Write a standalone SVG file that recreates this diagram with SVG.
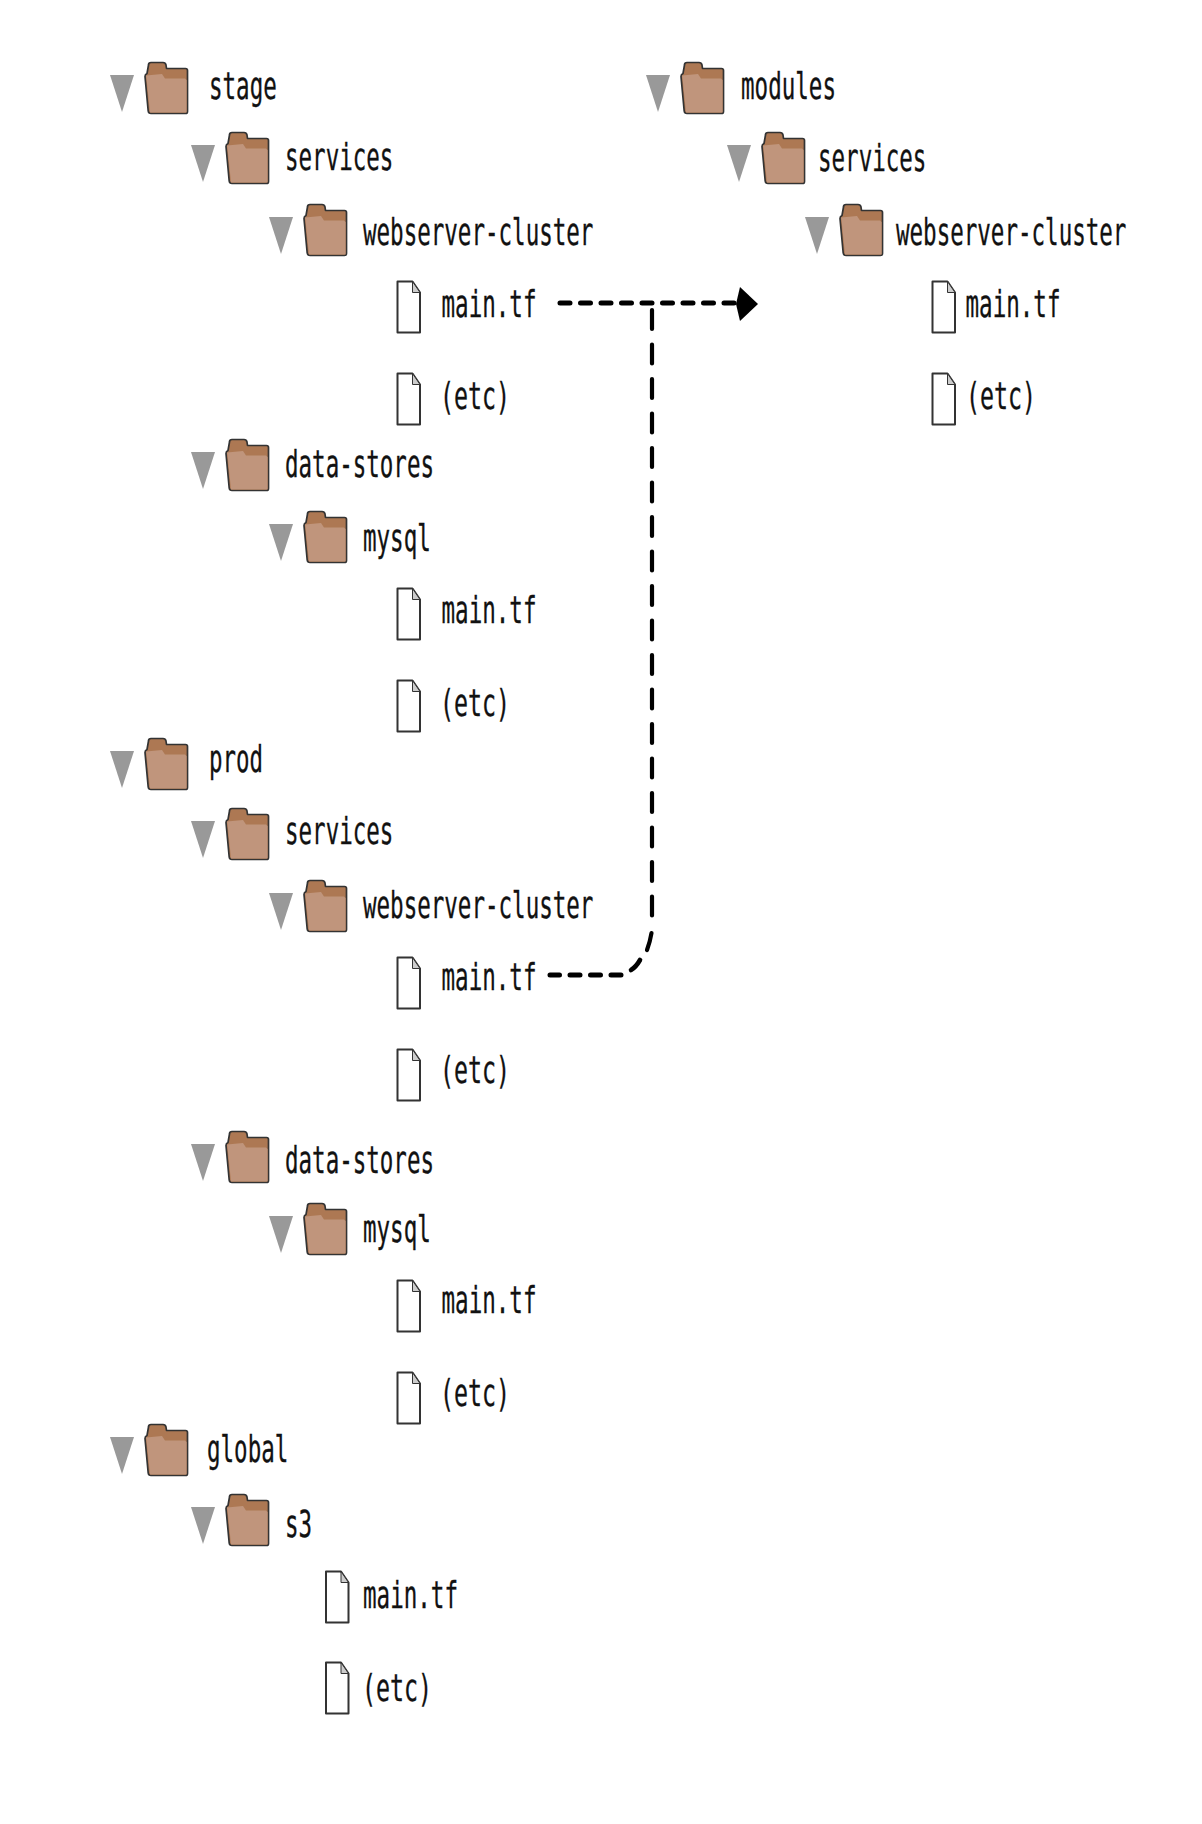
<svg xmlns="http://www.w3.org/2000/svg" width="1202" height="1824" viewBox="0 0 1202 1824">
<style>
text{font-family:"DejaVu Sans Mono","Liberation Mono",monospace;font-size:38px;fill:#111;stroke:#111;stroke-width:.35}
.tri{fill:#999}
.fb{fill:#ad7853;stroke:#333;stroke-width:1.7;stroke-linejoin:round}
.ff{fill:#c0957c}
.file{fill:#fff;stroke:#333;stroke-width:2;stroke-linejoin:round}
.fold{fill:#ccc;stroke:#333;stroke-width:1}
.c{fill:none;stroke:#000;stroke-linecap:round}
.h{stroke-width:5;stroke-dasharray:10 10.5}
.v{stroke-width:4.2;stroke-dasharray:19 15.5}
</style>
<defs>
<g id="folder">
<polygon class="tri" points="-35,13 -11,13 -23,50"/>
<path class="fb" d="M3.5 3Q3.5 0.5 6 0.5L18 0.5Q20.5 0.5 21 3L21.5 6.5L40.5 6.5Q42.5 6.5 42.5 8.5L42.5 49.5Q42.5 51.5 40.5 51.5L6 51.5Q3.5 51.5 3.2 49L0 14.5Q0 12.5 2 11.5Z"/>
<path class="ff" d="M1 13.5L17 12L20 16.5L40 16.5L41.6 18L41.6 50.5L5 50.5L1.5 16Z"/>
</g>
<g id="doc">
<path class="file" d="M0.5 0.5L15.5 0.5L23 11.5L23 51.5L0.5 51.5Z"/>
<path class="fold" d="M15.5 0.5L15.5 11.5L23 11.5Z"/>
</g>
</defs>
<g id="connectors">
<path class="c h" d="M560 303H738"/>
<polygon points="736,304 740,287 758,304 740,321" fill="#000"/>
<path class="c v" d="M652 310V917"/>
<path class="c" stroke-width="4.2" d="M651.5 933Q650 942 647 950"/>
<path class="c" stroke-width="4.6" d="M640 960Q636 967 631 970"/>
<path class="c h" d="M621 975H550"/>
</g>
<g id="n-stage"><use href="#folder" x="145" y="62"/><text x="209" y="99" textLength="67.8" lengthAdjust="spacingAndGlyphs">stage</text></g>
<g id="n-stage-services"><use href="#folder" x="226" y="132"/><text x="285" y="170" textLength="108.4" lengthAdjust="spacingAndGlyphs">services</text></g>
<g id="n-stage-web"><use href="#folder" x="304" y="204"/><text x="363" y="245" textLength="230.4" lengthAdjust="spacingAndGlyphs">webserver-cluster</text></g>
<g id="n-stage-web-main"><use href="#doc" x="397" y="281"/><text x="441.5" y="317" textLength="95" lengthAdjust="spacingAndGlyphs">main.tf</text></g>
<g id="n-stage-web-etc"><use href="#doc" x="397" y="373"/><text x="440" y="409" textLength="70" lengthAdjust="spacingAndGlyphs">(etc)</text></g>
<g id="n-stage-data"><use href="#folder" x="226" y="439"/><text x="285" y="477" textLength="149" lengthAdjust="spacingAndGlyphs">data-stores</text></g>
<g id="n-stage-mysql"><use href="#folder" x="304" y="511"/><text x="363" y="551" textLength="67.8" lengthAdjust="spacingAndGlyphs">mysql</text></g>
<g id="n-stage-mysql-main"><use href="#doc" x="397" y="588"/><text x="441.5" y="623" textLength="95" lengthAdjust="spacingAndGlyphs">main.tf</text></g>
<g id="n-stage-mysql-etc"><use href="#doc" x="397" y="680"/><text x="440" y="716" textLength="70" lengthAdjust="spacingAndGlyphs">(etc)</text></g>
<g id="n-prod"><use href="#folder" x="145" y="738"/><text x="209" y="772" textLength="54" lengthAdjust="spacingAndGlyphs">prod</text></g>
<g id="n-prod-services"><use href="#folder" x="226" y="808"/><text x="285" y="844" textLength="108.4" lengthAdjust="spacingAndGlyphs">services</text></g>
<g id="n-prod-web"><use href="#folder" x="304" y="880"/><text x="363" y="918" textLength="230.4" lengthAdjust="spacingAndGlyphs">webserver-cluster</text></g>
<g id="n-prod-web-main"><use href="#doc" x="397" y="957"/><text x="441.5" y="990" textLength="95" lengthAdjust="spacingAndGlyphs">main.tf</text></g>
<g id="n-prod-web-etc"><use href="#doc" x="397" y="1049"/><text x="440" y="1083" textLength="70" lengthAdjust="spacingAndGlyphs">(etc)</text></g>
<g id="n-prod-data"><use href="#folder" x="226" y="1131"/><text x="285" y="1173" textLength="149" lengthAdjust="spacingAndGlyphs">data-stores</text></g>
<g id="n-prod-mysql"><use href="#folder" x="304" y="1203"/><text x="363" y="1242" textLength="67.8" lengthAdjust="spacingAndGlyphs">mysql</text></g>
<g id="n-prod-mysql-main"><use href="#doc" x="397" y="1280"/><text x="441.5" y="1313" textLength="95" lengthAdjust="spacingAndGlyphs">main.tf</text></g>
<g id="n-prod-mysql-etc"><use href="#doc" x="397" y="1372"/><text x="440" y="1406" textLength="70" lengthAdjust="spacingAndGlyphs">(etc)</text></g>
<g id="n-global"><use href="#folder" x="145" y="1424"/><text x="207" y="1462" textLength="81.3" lengthAdjust="spacingAndGlyphs">global</text></g>
<g id="n-s3"><use href="#folder" x="226" y="1494"/><text x="285" y="1537" textLength="27.1" lengthAdjust="spacingAndGlyphs">s3</text></g>
<g id="n-s3-main"><use href="#doc" x="325.5" y="1571"/><text x="363" y="1608" textLength="95" lengthAdjust="spacingAndGlyphs">main.tf</text></g>
<g id="n-s3-etc"><use href="#doc" x="325.5" y="1662"/><text x="362" y="1701" textLength="70" lengthAdjust="spacingAndGlyphs">(etc)</text></g>
<g id="n-modules"><use href="#folder" x="681" y="62"/><text x="741" y="99" textLength="95" lengthAdjust="spacingAndGlyphs">modules</text></g>
<g id="n-mod-services"><use href="#folder" x="762" y="132"/><text x="818" y="170.5" textLength="108.4" lengthAdjust="spacingAndGlyphs">services</text></g>
<g id="n-mod-web"><use href="#folder" x="840" y="204"/><text x="896" y="245" textLength="230.4" lengthAdjust="spacingAndGlyphs">webserver-cluster</text></g>
<g id="n-mod-web-main"><use href="#doc" x="932" y="281"/><text x="965.5" y="317" textLength="95" lengthAdjust="spacingAndGlyphs">main.tf</text></g>
<g id="n-mod-web-etc"><use href="#doc" x="932" y="373"/><text x="966" y="409" textLength="70" lengthAdjust="spacingAndGlyphs">(etc)</text></g>
</svg>
